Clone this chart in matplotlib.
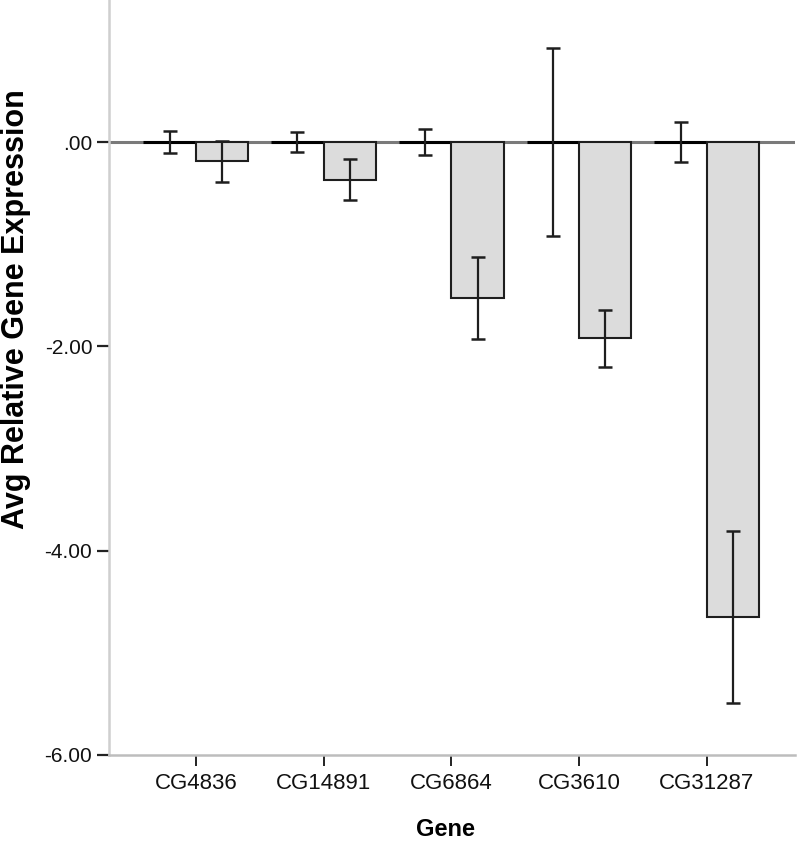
import matplotlib
matplotlib.use("Agg")
import matplotlib.pyplot as plt
import numpy as np

genes = ["CG4836", "CG14891", "CG6864", "CG3610", "CG31287"]
control_vals = [0.0, 0.0, 0.0, 0.0, 0.0]
control_err = [0.11, 0.10, 0.13, 0.92, 0.20]
treat_vals = [-0.19, -0.37, -1.53, -1.92, -4.65]
treat_err = [0.20, 0.20, 0.40, 0.28, 0.84]
yticks = [0, -2, -4, -6]
ytick_labels = [".00", "-2.00", "-4.00", "-6.00"]

plt.rcParams['font.family'] = ['Liberation Sans', 'DejaVu Sans']

fig = plt.figure(figsize=(7.97, 8.42), dpi=100)
ax = fig.add_axes([109/797, 87/842, 686/797, 755/842])

x = np.arange(len(genes))
w = 0.41
edge = "#1e1e1e"

ax.axhline(0, color="#7a7a7a", lw=2.2, zorder=1)
ax.bar(x - w/2, control_vals, width=w, color="#dcdcdc", edgecolor="black",
       linewidth=2.2, zorder=2)
ax.bar(x + w/2, treat_vals, width=w, color="#dcdcdc", edgecolor=edge,
       linewidth=1.5, zorder=2)
ax.errorbar(x - w/2, control_vals, yerr=control_err, fmt="none", ecolor=edge,
            elinewidth=1.6, capsize=4.7, capthick=1.8, zorder=3)
ax.errorbar(x + w/2, treat_vals, yerr=treat_err, fmt="none", ecolor=edge,
            elinewidth=1.6, capsize=4.7, capthick=1.8, zorder=3)

ax.set_xlim(-0.68, 4.69)
ax.set_ylim(-6.0, 1.39)
ax.set_yticks(yticks)
ax.set_yticklabels(ytick_labels)
ax.set_xticks(x)
ax.set_xticklabels(genes)

for s in ["top", "right"]:
    ax.spines[s].set_visible(False)
ax.spines["left"].set_color("#cfcfcf")
ax.spines["left"].set_linewidth(1.8)
ax.spines["bottom"].set_color("#bdbdbd")
ax.spines["bottom"].set_linewidth(1.8)

ax.tick_params(axis="y", length=9, width=1.6, color="#222222", pad=3,
               labelsize=15, labelcolor="#111111")
ax.tick_params(axis="x", length=8, width=1.4, color="#222222", pad=5,
               labelsize=16, labelcolor="#111111")

ax.set_xlabel("Gene", fontsize=17, fontweight="bold")
ax.set_ylabel("Avg Relative Gene Expression", fontsize=22, fontweight="bold")
ax.yaxis.set_label_coords(-0.113, 0.59)
ax.xaxis.set_label_coords(0.49, -0.083)

fig.savefig("out.png", dpi=100)
